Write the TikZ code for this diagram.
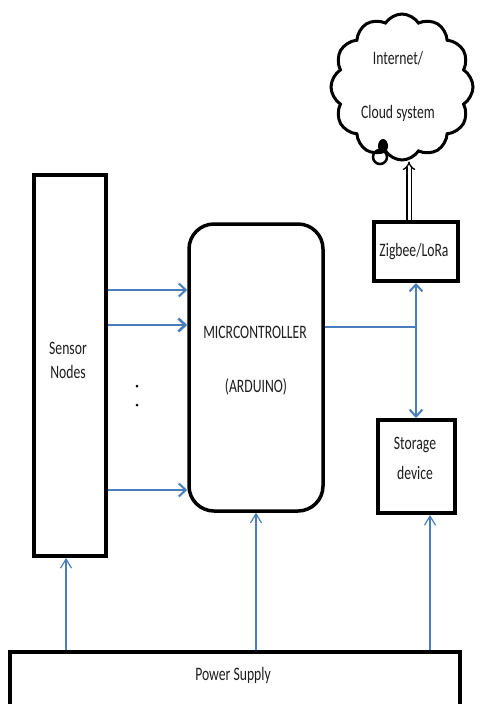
\documentclass[tikz,border=0pt]{standalone}
\usepackage{fontspec}
\setmainfont{Carlito}[FakeStretch=0.72]
\usetikzlibrary{arrows.meta,shapes.symbols}
\definecolor{lnblue}{HTML}{4A7EBB}
\definecolor{txt}{HTML}{1E1E1E}
\begin{document}
\begin{tikzpicture}[x=1pt,y=-1pt,
  box/.style={draw=black, line width=4pt, fill=white, inner sep=0pt},
  lbl/.style={font=\fontsize{19}{20}\selectfont, text=txt, inner sep=0pt, align=center},
  arr/.style={draw=lnblue, line width=2pt, -{Straight Barb[length=7pt,width=13pt]}},
  parr/.style={draw=lnblue, line width=1.2pt, -{Straight Barb[length=9pt,width=11pt]}},
  bline/.style={draw=lnblue, line width=2pt}]
\useasboundingbox[fill=white] (0,0) rectangle (481,704);

% boxes
\node[box, minimum width=72pt, minimum height=381pt] (sensor) at (70,365.5) {};
\node[box, line width=3.5pt, rounded corners=25pt, minimum width=134pt, minimum height=287pt] (mcu) at (256,367.5) {};
\node[box, minimum width=84pt, minimum height=59pt] (zig) at (416,251.5) {};
\node[box, minimum width=77pt, minimum height=93pt] (sto) at (416,466.5) {};
\node[box, minimum width=450pt, minimum height=54pt] (power) at (235,679) {};
\node[cloud, draw=black, fill=white, line width=3pt, cloud puffs=12, cloud puff arc=115,
      cloud ignores aspect, minimum width=142pt, minimum height=146pt, inner sep=0pt] (cloud) at (402,87) {};
\draw[black, line width=2.5pt] (380,157) ellipse [x radius=7pt, y radius=7pt];
\fill[black] (383,146) ellipse [x radius=5pt, y radius=7pt];

% texts
\node[lbl, font=\fontsize{19}{24}\selectfont] (sensorT) at (68,360) {Sensor\\Nodes};
\node[lbl] (mcuT1) at (255,332) {MICRCONTROLLER};
\node[lbl] (mcuT2) at (256,387) {(ARDUINO)};
\node[lbl] (zigT) at (414,252) {Zigbee/LoRa};
\node[lbl, font=\fontsize{19}{30}\selectfont] (stoT) at (415,458) {Storage\\device};
\node[lbl] (powT) at (233,675) {Power Supply};
\node[lbl] (cloudT1) at (398,58) {Internet/};
\node[lbl] (cloudT2) at (398,113) {Cloud system};

% dots
\fill[black] (137,386) circle [radius=1.5pt];
\fill[black] (137,405) circle [radius=1.5pt];

% sensor -> mcu
\coordinate (y1) at (0,290);
\coordinate (y2) at (0,325);
\coordinate (y3) at (0,490);
\draw[arr] (sensor.east |- y1) -- (mcu.west |- y1);
\draw[arr, line width=2.6pt] (sensor.east |- y2) -- (mcu.west |- y2);
\draw[arr] (sensor.east |- y3) -- (mcu.west |- y3);

% mcu -> zigbee / storage
\coordinate (jy) at (0,327);
\coordinate (j) at (zig.south |- jy);
\draw[bline] (mcu.east |- j) -- (j);
\draw[arr] (j) -- (zig.south);
\draw[arr] (j) -- (sto.north);

% zigbee -> cloud
\coordinate (zt) at ([xshift=-7pt]zig.north);
\draw[double=white, double distance=3pt, line width=1.3pt, -{Implies}] (zt) -- (zt |- cloud.south);

% power supply
\coordinate (ps1) at ([xshift=-4pt]sensor.south);
\coordinate (ps2) at (mcu.south);
\coordinate (ps3) at ([xshift=14pt]sto.south);
\draw[parr] (ps1 |- power.north) -- (ps1);
\draw[parr] (ps2 |- power.north) -- (ps2);
\draw[parr] (ps3 |- power.north) -- (ps3);
\end{tikzpicture}
\end{document}
